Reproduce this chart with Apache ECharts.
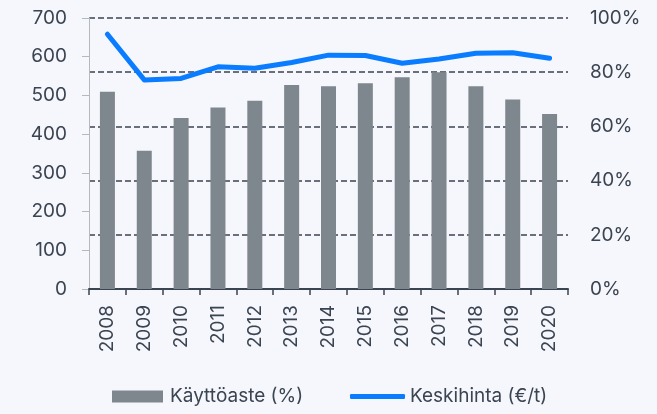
<!DOCTYPE html>
<html>
<head>
<meta charset="utf-8">
<script src="https://cdn.jsdelivr.net/npm/echarts@6/dist/echarts.min.js"></script>
<style>
  html, body { margin: 0; padding: 0; background: #f5f7fc; }
  #chart { width: 657px; height: 414px; }
</style>
</head>
<body>
<div id="chart"></div>
<script>
const years = ['2008', '2009', '2010', '2011', '2012', '2013', '2014', '2015', '2016', '2017', '2018', '2019', '2020']
// käyttöaste, % (oikea akseli)
const utilization = [72.8, 51.0, 63.1, 67.0, 69.5, 75.3, 74.8, 75.9, 78.1, 80.0, 74.8, 69.9, 64.6]
// keskihinta, €/t (vasen akseli)
const avgPrice = [658, 540, 544, 574, 570, 585, 604, 603, 583, 594, 609, 610, 596]
const leftTicks = [0, 700, 100]
const rightTicks = [0, 100, 20]

const textColor = '#3b4451'
const font = 'Inter, "Open Sans", sans-serif'
const fs = 19

const chart = echarts.init(document.getElementById('chart'))
chart.setOption({
  backgroundColor: '#f5f7fc',
  animation: false,
  textStyle: { fontFamily: font },
  grid: { left: 89, right: 89, top: 18, bottom: 125 },
  legend: [
    {
      data: [{ name: 'Käyttöaste (%)', icon: 'rect' }],
      left: 112, top: 387, padding: 0,
      itemWidth: 51, itemHeight: 12, itemGap: 6,
      textStyle: { color: textColor, fontSize: fs, fontFamily: font, padding: [0, 0, 0, 2] }
    },
    {
      data: [{ name: 'Keskihinta (€/t)', icon: 'roundRect' }],
      left: 350, top: 387, padding: 0,
      itemWidth: 55, itemHeight: 5, itemGap: 2,
      textStyle: { color: textColor, fontSize: fs, fontFamily: font }
    }
  ],
  xAxis: {
    type: 'category',
    data: years,
    boundaryGap: true,
    axisLine: { lineStyle: { color: textColor, width: 2 } },
    axisTick: { show: true, length: 6, lineStyle: { color: textColor, width: 1.5 } },
    axisLabel: { rotate: 90, margin: 16, color: textColor, fontSize: fs, fontFamily: font }
  },
  yAxis: [
    {
      type: 'value',
      min: leftTicks[0], max: leftTicks[1], interval: leftTicks[2],
      axisLine: { show: true, lineStyle: { color: '#b4b9be', width: 1 } },
      axisTick: { show: true, length: 7, lineStyle: { color: '#b4b9be' } },
      axisLabel: { margin: 22, color: textColor, fontSize: fs, fontFamily: font },
      splitLine: { show: false }
    },
    {
      type: 'value',
      min: rightTicks[0], max: rightTicks[1], interval: rightTicks[2],
      axisLine: { show: false },
      axisTick: { show: false },
      axisLabel: { margin: 22, color: textColor, fontSize: fs, fontFamily: font, formatter: '{value}%' },
      splitLine: { show: true, lineStyle: { color: '#3b4451', type: [6, 3], width: 1.5 } }
    }
  ],
  series: [
    {
      name: 'Käyttöaste (%)',
      type: 'bar',
      yAxisIndex: 1,
      data: utilization,
      barWidth: 15,
      itemStyle: { color: '#7e878d' }
    },
    {
      name: 'Keskihinta (€/t)',
      type: 'line',
      yAxisIndex: 0,
      data: avgPrice,
      symbol: 'none',
      lineStyle: { color: '#0a7cff', width: 5, cap: 'round', join: 'round' },
      itemStyle: { color: '#0a7cff' }
    }
  ]
})
</script>
</body>
</html>
